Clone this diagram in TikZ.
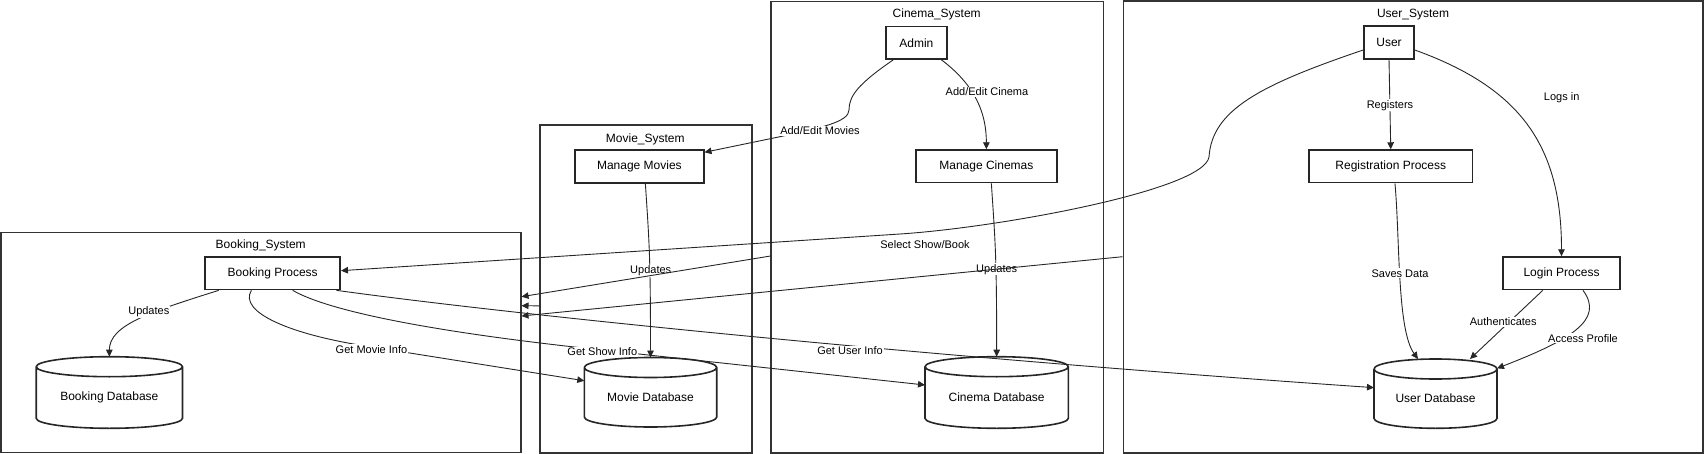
\documentclass[tikz,border=0pt]{standalone}
\usepackage{fontspec}
\setmainfont{Liberation Sans}
\usetikzlibrary{arrows.meta}

\begin{document}
\begin{tikzpicture}[x=1pt,y=1pt]
\tikzstyle{every node}+=[inner sep=1pt,font=\fontsize{12}{14}\selectfont]
\tikzstyle{sysbox}=[draw=black!80,line width=1.6pt]
\tikzstyle{proc}=[draw=black!85,line width=1.6pt,fill=white,minimum height=32.5]
\tikzstyle{dbtext}=[outer sep=0pt]
\tikzstyle{dbline}=[draw=black!85,line width=1.6pt]
\tikzstyle{flow}=[black!85,line width=0.9pt,-{Triangle[length=7pt,width=6.5pt]}]
\tikzstyle{elabel}=[fill=white,font=\fontsize{11}{13}\selectfont]
\useasboundingbox (0,0) rectangle (1704,-454);
% subgraphs
\node[sysbox,minimum width=519.7,minimum height=219.6] (booksys) at (260.85,-342.5) {};
\node[sysbox,minimum width=211.7,minimum height=327.7] (moviesys) at (645.85,-288.85) {};
\node[sysbox,minimum width=332.3,minimum height=451.3] (cinesys) at (937.15,-227.35) {};
\node[sysbox,minimum width=579.5,minimum height=452] (usersys) at (1413.25,-227) {};
\node (booklbl) at (260.7,-245.7) {Booking\_System};
\node (movielbl) at (645.3,-139) {Movie\_System};
\node (cinelbl) at (936.7,-14.7) {Cinema\_System};
\node (userlbl) at (1413,-14.7) {User\_System};
% processes
\node[proc,minimum width=135] (bproc) at (272.7,-273.3) {Booking Process};
\node[proc,minimum width=128.7] (mmov) at (639.35,-166.5) {Manage Movies};
\node[proc,minimum width=60.7] (admin) at (916.35,-42.85) {Admin};
\node[proc,minimum width=140.7] (mcin) at (986.35,-166.35) {Manage Cinemas};
\node[proc,minimum width=50] (usr) at (1389,-42.5) {User};
\node[proc,minimum width=163.1] (reg) at (1390.75,-166.35) {Registration Process};
\node[proc,minimum width=116.6] (login) at (1561.5,-273.35) {Login Process};
% databases
\node[dbtext,minimum width=146.3,minimum height=61.6] (bdb) at (109.35,-397.5) {Booking Database};
\node[dbtext,minimum width=132.4,minimum height=59.5] (mdb) at (650.5,-397.25) {Movie Database};
\node[dbtext,minimum width=143.3,minimum height=61.6] (cdb) at (996.65,-397.5) {Cinema Database};
\node[dbtext,minimum width=123,minimum height=59.3] (udb) at (1435.5,-398.65) {User Database};
\draw[dbline] (bdb.north west) -- ([yshift=10]bdb.south west) arc[start angle=180,end angle=360,x radius=73.15,y radius=10] -- (bdb.north east) arc[start angle=0,end angle=180,x radius=73.15,y radius=10] (bdb.north east) arc[start angle=0,end angle=-180,x radius=73.15,y radius=10];
\draw[dbline] (mdb.north west) -- ([yshift=10]mdb.south west) arc[start angle=180,end angle=360,x radius=66.2,y radius=10] -- (mdb.north east) arc[start angle=0,end angle=180,x radius=66.2,y radius=10] (mdb.north east) arc[start angle=0,end angle=-180,x radius=66.2,y radius=10];
\draw[dbline] (cdb.north west) -- ([yshift=10]cdb.south west) arc[start angle=180,end angle=360,x radius=71.65,y radius=10] -- (cdb.north east) arc[start angle=0,end angle=180,x radius=71.65,y radius=10] (cdb.north east) arc[start angle=0,end angle=-180,x radius=71.65,y radius=10];
\draw[dbline] (udb.north west) -- ([yshift=10]udb.south west) arc[start angle=180,end angle=360,x radius=61.5,y radius=10] -- (udb.north east) arc[start angle=0,end angle=180,x radius=61.5,y radius=10] (udb.north east) arc[start angle=0,end angle=-180,x radius=61.5,y radius=10];
% flows
\draw[flow] ([xshift=-54]bproc.south) .. controls (150,-312) and (109.4,-325) .. ([yshift=10]bdb.north);
\draw[flow] ([xshift=-21.3]bproc.south) .. controls (238,-312) and (290,-335) .. (372,-347) -- ([yshift=16.5]mdb.west);
\draw[flow] ([xshift=20]bproc.south) .. controls (330,-312) and (440,-333) .. (602,-350) -- ([yshift=12.5]cdb.west);
\draw[flow] ([xshift=-4.5]bproc.south east) .. controls (500,-313) and (900,-355) .. ([yshift=11]udb.west);
\draw[flow] ([xshift=6]mmov.south) .. controls +(4,-60) and +(0,100) .. ([yshift=10]mdb.north);
\draw[flow] ([xshift=8]admin.south west) .. controls (858,-84) and (849,-96) .. (849,-110) .. controls (849,-122) and (820,-128) .. (780,-136.7) -- ([yshift=14.2]mmov.east);
\draw[flow] ([xshift=-6]admin.south east) .. controls (968,-80) and (986.35,-105) .. (mcin.north);
\draw[flow] ([xshift=5]mcin.south) .. controls +(4,-60) and +(0,100) .. ([yshift=10]cdb.north);
\draw[flow] (usr.south) -- (reg.north);
\draw[flow] ([yshift=-7.5]usr.east) .. controls (1520,-88) and (1561.5,-145) .. (login.north);
\draw[flow] ([yshift=-7.5]usr.west) .. controls (1260,-85) and (1212,-110) .. (1209,-157) .. controls (1204,-190) and (1000,-227.5) .. (900,-234) -- ([yshift=2.6]bproc.east);
\draw[flow] ([xshift=4.2]reg.south) .. controls (1400,-240) and (1397,-330) .. ([xshift=-17.5,yshift=10]udb.north);
\draw[flow] ([xshift=-18.8]login.south) -- ([xshift=34.5,yshift=10]udb.north);
\draw[flow] ([xshift=21.5]login.south) .. controls (1605,-320) and (1570,-340) .. ([yshift=30.3]udb.east);
% labels
\node[elabel] (updbook) at (148.8,-311.7) {Updates};
\node[elabel] (getmovie) at (371.5,-349.3) {Get Movie Info};
\node[elabel] (getshow) at (602.3,-351.7) {Get Show Info};
\node[elabel] (getuser) at (850,-351) {Get User Info};
\node[elabel] (updmovie) at (650.7,-270.7) {Updates};
\node[elabel] (addmovie) at (820,-131) {Add/Edit Movies};
\node[elabel] (addcine) at (987,-92) {Add/Edit Cinema};
\node[elabel] (updcine) at (996.7,-269.3) {Updates};
\node[elabel] (selshow) at (925,-245) {Select Show/Book};
\node[elabel] (regs) at (1390,-105.3) {Registers};
\node[elabel] (logsin) at (1561.7,-97.3) {Logs in};
\node[elabel] (saves) at (1400,-273.3) {Saves Data};
\node[elabel] (auth) at (1503.2,-322) {Authenticates};
\node[elabel] (access) at (1583,-338.3) {Access Profile};
% system to system
\draw[flow] ([yshift=-17]moviesys.west) -- ([yshift=36.8]booksys.east);
\draw[flow] ([yshift=-28.7]cinesys.west) -- ([yshift=45.8]booksys.east);
\draw[flow] ([yshift=-29.7]usersys.west) -- ([yshift=26.5]booksys.east);
\end{tikzpicture}
\end{document}
